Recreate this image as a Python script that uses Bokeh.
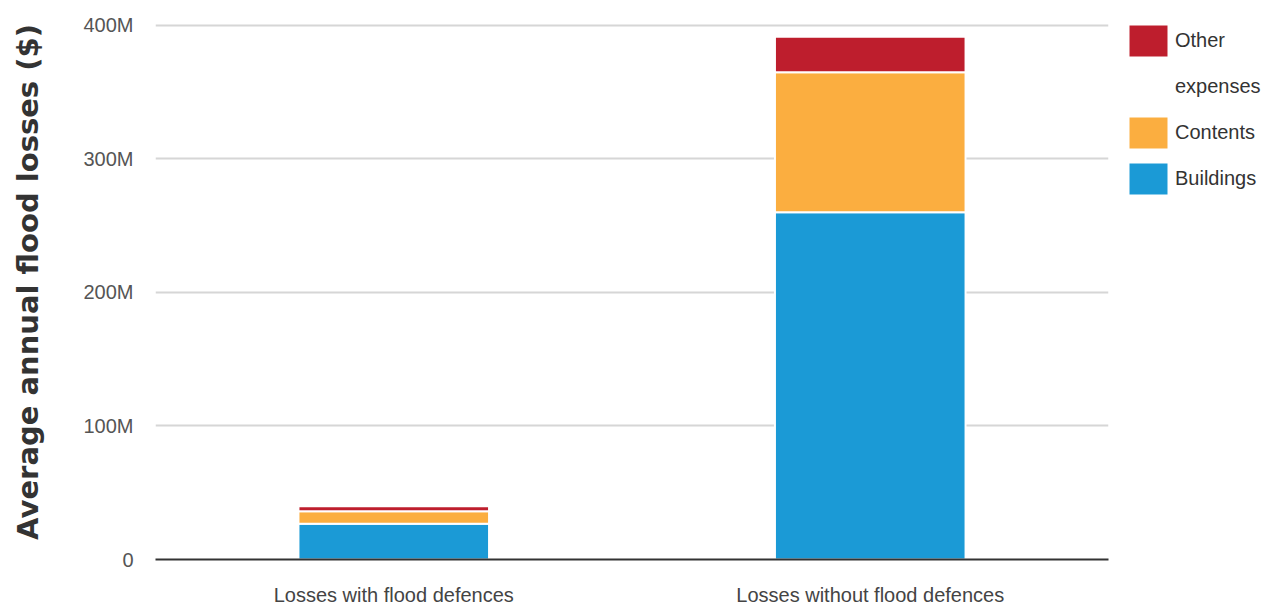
from bokeh.plotting import figure
from bokeh.models import Range1d, FixedTicker, Legend, LegendItem
from bokeh.embed import file_html
from bokeh.resources import INLINE

# Average annual flood losses, split by loss type
categories = ["Losses with flood defences", "Losses without flood defences"]
buildings = [26.7e6, 260e6]
contents = [9.5e6, 105e6]
other_expenses = [3.7e6, 26.5e6]

y_ticks = [0, 100e6, 200e6, 300e6, 400e6]
y_tick_labels = ["0", "100M", "200M", "300M", "400M"]

series = ["Buildings", "Contents", "Other expenses"]
colors = ["#1b9ad6", "#fbae40", "#be1e2d"]

data = dict(cat=categories, Buildings=buildings, Contents=contents)
data["Other expenses"] = other_expenses

TEXT_FONT = "Liberation Sans"

# a little headroom above the top gridline for the legend
Y_END = 415.7e6

p = figure(
    x_range=categories,
    y_range=Range1d(0, Y_END),
    width=1275,
    height=608,
    frame_width=953,
    frame_height=555,
    output_backend="svg",
    toolbar_location=None,
    min_border_top=4,
    min_border_bottom=49,
    min_border_left=155,
    min_border_right=167,
)
p.outline_line_color = None
p.background_fill_color = "white"

renderers = p.vbar_stack(
    series, x="cat", width=0.4, source=data,
    fill_color=colors, line_color="white", line_width=2,
)

# y axis
p.yaxis.ticker = FixedTicker(ticks=y_ticks)
p.yaxis.major_label_overrides = {t: s for t, s in zip(y_ticks, y_tick_labels)}
p.yaxis.axis_line_color = None
p.yaxis.major_tick_line_color = None
p.yaxis.minor_tick_line_color = None
p.yaxis.major_label_standoff = 16
p.yaxis.major_label_text_font = TEXT_FONT
p.yaxis.major_label_text_font_size = "20px"
p.yaxis.major_label_text_color = "#555555"
p.yaxis.axis_label = "Average annual flood losses ($)"
p.yaxis.axis_label_text_font = "DejaVu Sans"
p.yaxis.axis_label_text_font_style = "bold"
p.yaxis.axis_label_text_font_size = "29px"
p.yaxis.axis_label_text_color = "#333333"
p.yaxis.axis_label_standoff = 35

# x axis
p.xaxis.axis_line_color = "#333333"
p.xaxis.axis_line_width = 2
p.xaxis.major_tick_line_color = None
p.xaxis.major_label_standoff = 18
p.xaxis.major_label_text_font = TEXT_FONT
p.xaxis.major_label_text_font_size = "20px"
p.xaxis.major_label_text_color = "#444444"

p.xgrid.grid_line_color = None
p.ygrid.grid_line_color = "#d6d6d6"
p.ygrid.grid_line_width = 2

# second legend line for the wrapped "Other expenses" entry, with no swatch
blank = p.vbar(x=[], top=[], width=0.4, fill_alpha=0, line_alpha=0)

items = [
    LegendItem(label="Other", renderers=[renderers[2]]),
    LegendItem(label="expenses", renderers=[blank]),
    LegendItem(label="Contents", renderers=[renderers[1]]),
    LegendItem(label="Buildings", renderers=[renderers[0]]),
]
legend = Legend(
    items=items,
    location=(15, 360),
    margin=0,
    padding=0,
    border_line_color=None,
    background_fill_alpha=0,
    glyph_width=50,
    glyph_height=41,
    label_height=41,
    label_standoff=2,
    spacing=5,
    label_text_font=TEXT_FONT,
    label_text_font_size="20px",
    label_text_color="#333333",
)
p.add_layout(legend, "right")

open("out.html", "w").write(file_html(p, INLINE))
